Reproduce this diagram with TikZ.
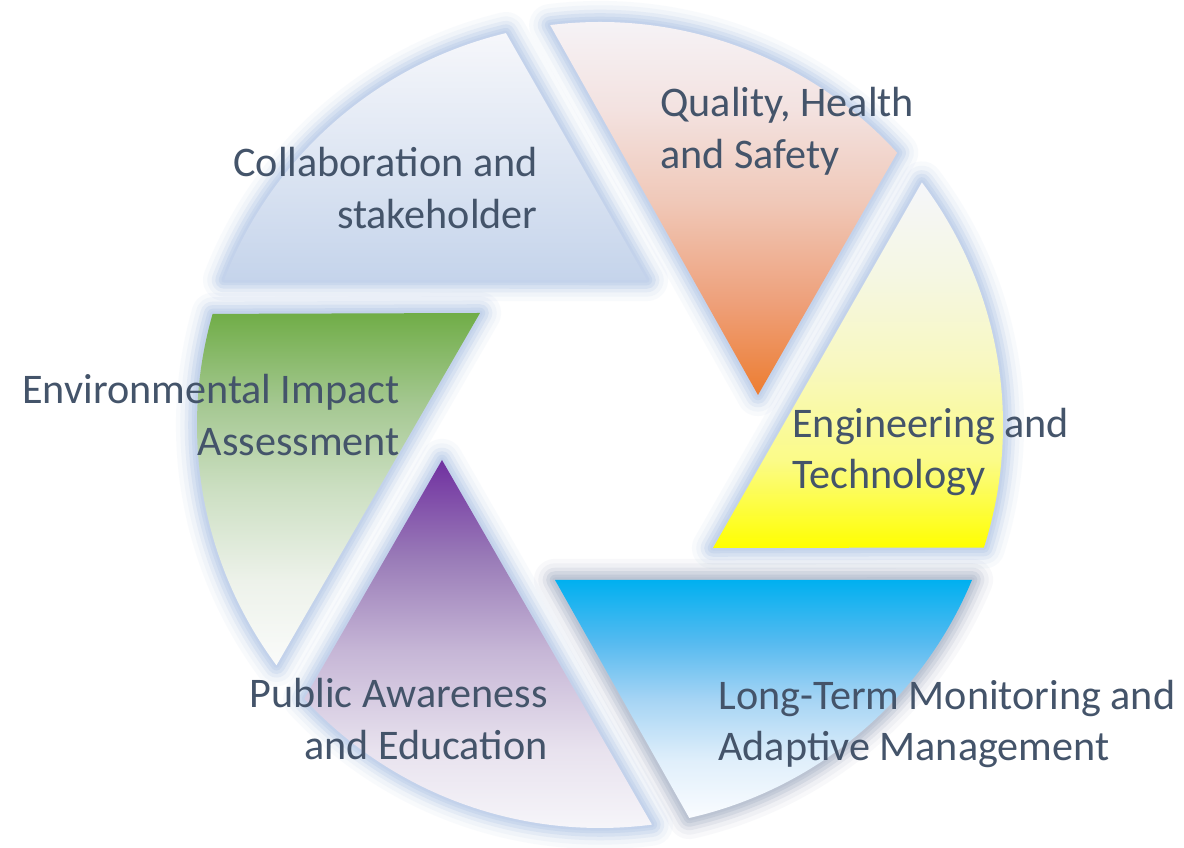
\documentclass[tikz,border=0pt]{standalone}
\usepackage{fontspec}
\setmainfont{Carlito}
\usetikzlibrary{calc}
\definecolor{txt}{HTML}{44546A}
\definecolor{glowc}{HTML}{C3D2EB}
\definecolor{glowg}{HTML}{BCC4D3}
\pgfdeclareverticalshading{shCol}{100bp}{color(0bp)=(rgb:red,197;green,212;blue,235);color(25bp)=(rgb,255:red,197;green,212;blue,235);color(50bp)=(rgb,255:red,222;green,230;blue,243);color(75bp)=(rgb,255:red,246;green,247;blue,251);color(100bp)=(rgb,255:red,246;green,247;blue,251)}
\definecolor{c1}{HTML}{ED7D31}\definecolor{c2}{HTML}{EEA07A}\definecolor{c3}{HTML}{F0C8B8}\definecolor{c4}{HTML}{F3E2E0}\definecolor{c5}{HTML}{F6F5F9}
\pgfdeclareverticalshading{shQua}{100bp}{color(0bp)=(c1);color(25bp)=(c1);color(37bp)=(c2);color(50bp)=(c3);color(62bp)=(c4);color(75bp)=(c5);color(100bp)=(c5)}
\definecolor{e1}{HTML}{FFFF00}\definecolor{e2}{HTML}{FBFB88}\definecolor{e3}{HTML}{F8F8C0}\definecolor{e4}{HTML}{F5F7E2}\definecolor{e5}{HTML}{F5F6FA}
\pgfdeclareverticalshading{shEng}{100bp}{color(0bp)=(e1);color(25bp)=(e1);color(37bp)=(e2);color(50bp)=(e3);color(62bp)=(e4);color(75bp)=(e5);color(100bp)=(e5)}
\definecolor{l1}{HTML}{FAFCFF}\definecolor{l2}{HTML}{E0EFFB}\definecolor{l3}{HTML}{A5D4F4}\definecolor{l4}{HTML}{55BAF0}\definecolor{l5}{HTML}{00B0F0}
\pgfdeclareverticalshading{shLon}{100bp}{color(0bp)=(l1);color(25bp)=(l1);color(37bp)=(l2);color(50bp)=(l3);color(62bp)=(l4);color(75bp)=(l5);color(100bp)=(l5)}
\definecolor{p1}{HTML}{F8F8FB}\definecolor{p2}{HTML}{E8E2EE}\definecolor{p3}{HTML}{C6B6D6}\definecolor{p4}{HTML}{9A7CB8}\definecolor{p5}{HTML}{7030A0}
\pgfdeclareverticalshading{shPub}{100bp}{color(0bp)=(p1);color(25bp)=(p1);color(37bp)=(p2);color(50bp)=(p3);color(62bp)=(p4);color(75bp)=(p5);color(100bp)=(p5)}
\definecolor{g1}{HTML}{FAFBFA}\definecolor{g2}{HTML}{EDF2EA}\definecolor{g3}{HTML}{CCDFC2}\definecolor{g4}{HTML}{A5C892}\definecolor{g5}{HTML}{70AD47}
\pgfdeclareverticalshading{shEnv}{100bp}{color(0bp)=(g1);color(25bp)=(g1);color(37bp)=(g2);color(50bp)=(g3);color(62bp)=(g4);color(75bp)=(g5);color(100bp)=(g5)}
\tikzset{
  lbl/.style={text=txt, inner sep=0pt, font=\fontsize{24}{29.5}\selectfont},
  bladefill/.style={draw=none},
}
\begin{document}
\begin{tikzpicture}[x=0.02cm,y=0.02cm]
\fill[white] (0,0) rectangle (1184,848);
\useasboundingbox (0,0) rectangle (1184,848);
\coordinate (C) at (600,423);
% Collaboration
\coordinate (A1) at ($(C)+(158.9:403)$);
\coordinate (A2) at (647,568);
\coordinate (A3) at ($(C)+(103.5:403)$);
% Quality
\coordinate (Q1) at ($(C)+(97.1:403)$);
\coordinate (Q2) at (758,453);
\coordinate (Q3) at ($(C)+(42.5:403)$);
% Engineering
\coordinate (E1) at ($(C)+(37.0:403)$);
\coordinate (E2) at (713,300);
\coordinate (E3) at ($(C)+(-17.7:403)$);
% Long-term
\coordinate (L1) at (555,268);
\coordinate (L2) at ($(C)+(-22.6:403)$);
\coordinate (L3) at ($(C)+(-77.2:403)$);
% Public
\coordinate (P1) at (442,388);
\coordinate (P2) at ($(C)+(-82.6:403)$);
\coordinate (P3) at ($(C)+(222.8:403)$);
% Environmental
\coordinate (G1) at ($(C)+(164.0:403)$);
\coordinate (G2) at (480,535);
\coordinate (G3) at ($(C)+(216.6:403)$);

\def\pCol{(A1) -- (A2) -- (A3) arc[start angle=103.5, end angle=158.9, radius=403] -- cycle}
\def\pQua{(Q1) -- (Q2) -- (Q3) arc[start angle=42.5, end angle=97.1, radius=403] -- cycle}
\def\pEng{(E1) -- (E2) -- (E3) arc[start angle=-17.7, end angle=37.0, radius=403] -- cycle}
\def\pLon{(L2) -- (L1) -- (L3) arc[start angle=-77.2, end angle=-22.6, radius=403] -- cycle}
\def\pPub{(P2) -- (P1) -- (P3) arc[start angle=222.8, end angle=277.4, radius=403] -- cycle}
\def\pEnv{(G2) -- (G1) arc[start angle=164.0, end angle=216.6, radius=403] -- cycle}

% glows
\foreach \w/\o in {24/0.1, 19/0.15, 14/0.25, 10/0.4, 6/0.6, 3/0.9}{
  \draw[glowc, line width=\w pt, opacity=\o, line join=round] \pCol;
  \draw[glowc, line width=\w pt, opacity=\o, line join=round] \pQua;
  \draw[glowc, line width=\w pt, opacity=\o, line join=round] \pEng;
  \draw[glowg, line width=\w pt, opacity=\o, line join=round] \pLon;
  \draw[glowc, line width=\w pt, opacity=\o, line join=round] \pPub;
  \draw[glowc, line width=\w pt, opacity=\o, line join=round] \pEnv;
}

% fills
\path[bladefill, shading=shCol] \pCol;
\path[bladefill, shading=shQua] \pQua;
\path[bladefill, shading=shEng] \pEng;
\path[bladefill, shading=shLon] \pLon;
\path[bladefill, shading=shPub] \pPub;
\path[bladefill, shading=shEnv] \pEnv;

% labels
\node[lbl, anchor=east, align=right] (tcol) at (538,660) {Collaboration and\\stakeholder};
\node[lbl, anchor=west, align=left] (tqua) at (660,717) {Quality, Health\\and Safety};
\node[lbl, anchor=west, align=left] (teng) at (792,396) {Engineering and\\Technology};
\node[lbl, anchor=west, align=left] (tlon) at (718,124) {Long-Term Monitoring and\\Adaptive Management};
\node[lbl, anchor=east, align=right] (tpub) at (548,129) {Public Awareness\\and Education};
\node[lbl, anchor=east, align=right] (tenv) at (400,433) {Environmental Impact\\Assessment};
\end{tikzpicture}
\end{document}
